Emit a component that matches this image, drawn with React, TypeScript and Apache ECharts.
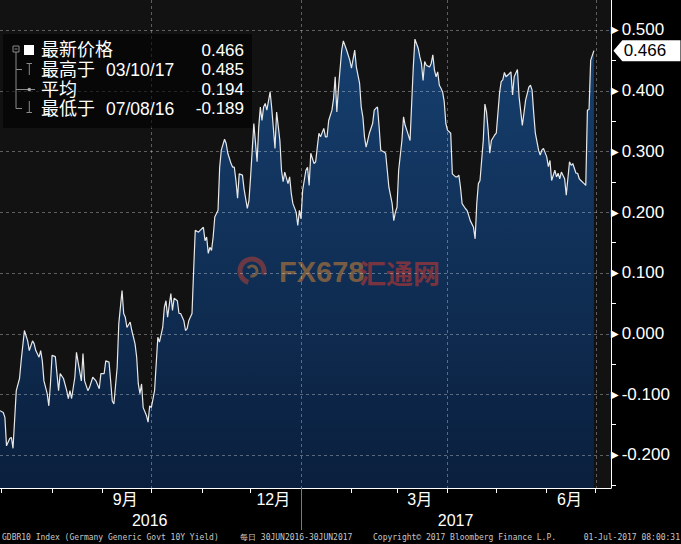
import React, { useEffect, useRef } from 'react';
import * as echarts from 'echarts';

// GDBR10 daily yield
const dates = [
  '2016-06-30','2016-07-02','2016-07-03','2016-07-04','2016-07-06','2016-07-07','2016-07-08','2016-07-10','2016-07-12','2016-07-13',
  '2016-07-15','2016-07-17','2016-07-18','2016-07-20','2016-07-21','2016-07-22','2016-07-24','2016-07-25','2016-07-26','2016-07-27',
  '2016-07-29','2016-07-30','2016-07-31','2016-08-01','2016-08-03','2016-08-04','2016-08-05','2016-08-06','2016-08-08','2016-08-10',
  '2016-08-11','2016-08-12','2016-08-13','2016-08-15','2016-08-16','2016-08-17','2016-08-19','2016-08-20','2016-08-21','2016-08-23',
  '2016-08-24','2016-08-26','2016-08-28','2016-08-30','2016-08-31','2016-09-02','2016-09-03','2016-09-05','2016-09-06','2016-09-07',
  '2016-09-08','2016-09-10','2016-09-11','2016-09-13','2016-09-14','2016-09-15','2016-09-16','2016-09-18','2016-09-19','2016-09-21',
  '2016-09-22','2016-09-23','2016-09-24','2016-09-25','2016-09-26','2016-09-28','2016-09-29','2016-09-30','2016-10-01','2016-10-03',
  '2016-10-04','2016-10-05','2016-10-06','2016-10-08','2016-10-09','2016-10-10','2016-10-11','2016-10-13','2016-10-14','2016-10-15',
  '2016-10-17','2016-10-18','2016-10-19','2016-10-21','2016-10-22','2016-10-23','2016-10-24','2016-10-26','2016-10-27','2016-10-28',
  '2016-10-30','2016-10-31','2016-11-02','2016-11-03','2016-11-04','2016-11-05','2016-11-06','2016-11-07','2016-11-08','2016-11-09',
  '2016-11-11','2016-11-12','2016-11-13','2016-11-15','2016-11-16','2016-11-17','2016-11-19','2016-11-20','2016-11-21','2016-11-22',
  '2016-11-23','2016-11-24','2016-11-26','2016-11-27','2016-11-29','2016-11-30','2016-12-01','2016-12-02','2016-12-03','2016-12-05',
  '2016-12-06','2016-12-07','2016-12-08','2016-12-09','2016-12-10','2016-12-11','2016-12-13','2016-12-14','2016-12-16','2016-12-17',
  '2016-12-19','2016-12-20','2016-12-21','2016-12-22','2016-12-24','2016-12-25','2016-12-26','2016-12-27','2016-12-29','2016-12-30',
  '2016-12-31','2017-01-01','2017-01-02','2017-01-04','2017-01-05','2017-01-06','2017-01-07','2017-01-09','2017-01-10','2017-01-11',
  '2017-01-12','2017-01-13','2017-01-15','2017-01-16','2017-01-17','2017-01-18','2017-01-20','2017-01-21','2017-01-22','2017-01-23',
  '2017-01-24','2017-01-26','2017-01-27','2017-01-29','2017-01-31','2017-02-01','2017-02-03','2017-02-04','2017-02-06','2017-02-07',
  '2017-02-08','2017-02-09','2017-02-10','2017-02-11','2017-02-12','2017-02-14','2017-02-15','2017-02-16','2017-02-17','2017-02-18',
  '2017-02-19','2017-02-21','2017-02-22','2017-02-23','2017-02-24','2017-02-26','2017-02-27','2017-02-28','2017-03-01','2017-03-02',
  '2017-03-04','2017-03-05','2017-03-06','2017-03-07','2017-03-09','2017-03-10','2017-03-11','2017-03-12','2017-03-14','2017-03-15',
  '2017-03-16','2017-03-17','2017-03-18','2017-03-19','2017-03-21','2017-03-22','2017-03-23','2017-03-24','2017-03-25','2017-03-26',
  '2017-03-27','2017-03-28','2017-03-29','2017-03-30','2017-03-31','2017-04-01','2017-04-03','2017-04-04','2017-04-06','2017-04-07',
  '2017-04-08','2017-04-09','2017-04-10','2017-04-12','2017-04-13','2017-04-14','2017-04-15','2017-04-17','2017-04-18','2017-04-19',
  '2017-04-20','2017-04-21','2017-04-23','2017-04-24','2017-04-25','2017-04-26','2017-04-27','2017-04-28','2017-04-30','2017-05-01',
  '2017-05-03','2017-05-04','2017-05-05','2017-05-06','2017-05-07','2017-05-09','2017-05-10','2017-05-11','2017-05-12','2017-05-14',
  '2017-05-15','2017-05-17','2017-05-18','2017-05-19','2017-05-21','2017-05-22','2017-05-23','2017-05-24','2017-05-25','2017-05-27',
  '2017-05-28','2017-05-29','2017-05-30','2017-06-01','2017-06-02','2017-06-03','2017-06-04','2017-06-06','2017-06-07','2017-06-08',
  '2017-06-09','2017-06-10','2017-06-12','2017-06-13','2017-06-15','2017-06-16','2017-06-17','2017-06-19','2017-06-20','2017-06-21',
  '2017-06-22','2017-06-24','2017-06-25','2017-06-26','2017-06-27','2017-06-28','2017-06-30',
];

const yields = [
  -0.127,-0.130,-0.138,-0.185,-0.173,-0.171,-0.189,-0.094,-0.074,-0.045,
  0.005,-0.012,-0.028,-0.012,-0.017,-0.028,-0.039,-0.028,-0.045,-0.078,
  -0.099,-0.119,-0.083,-0.036,-0.038,-0.066,-0.094,-0.066,-0.074,-0.094,
  -0.107,-0.094,-0.107,-0.072,-0.031,-0.047,-0.078,-0.033,-0.078,-0.094,
  -0.089,-0.072,-0.078,-0.091,-0.066,-0.066,-0.045,-0.047,-0.078,-0.111,
  -0.116,-0.056,0.016,0.071,0.033,0.027,0.010,0.019,0.005,-0.017,
  -0.039,-0.083,-0.099,-0.083,-0.122,-0.135,-0.146,-0.119,-0.122,-0.094,
  -0.050,-0.006,-0.014,0.010,0.043,0.054,0.027,0.066,0.038,0.058,
  0.054,0.033,0.033,0.021,0.005,0.008,0.021,0.033,0.104,0.170,
  0.167,0.170,0.175,0.153,0.159,0.132,0.142,0.137,0.159,0.192,
  0.203,0.274,0.302,0.320,0.313,0.297,0.280,0.274,0.274,0.252,
  0.223,0.263,0.261,0.238,0.206,0.219,0.258,0.302,0.346,0.283,
  0.340,0.373,0.351,0.373,0.379,0.368,0.398,0.371,0.305,0.365,
  0.318,0.269,0.250,0.266,0.247,0.258,0.231,0.214,0.200,0.178,
  0.203,0.189,0.236,0.269,0.274,0.244,0.297,0.280,0.283,0.307,
  0.330,0.324,0.338,0.324,0.324,0.351,0.368,0.387,0.423,0.365,
  0.404,0.467,0.482,0.467,0.450,0.437,0.467,0.439,0.412,0.373,
  0.357,0.324,0.307,0.318,0.330,0.346,0.368,0.371,0.373,0.340,
  0.302,0.299,0.297,0.269,0.241,0.214,0.186,0.200,0.208,0.269,
  0.318,0.357,0.343,0.335,0.318,0.379,0.439,0.485,0.470,0.456,
  0.445,0.417,0.448,0.442,0.439,0.445,0.459,0.434,0.423,0.431,
  0.409,0.404,0.398,0.382,0.346,0.335,0.330,0.263,0.258,0.258,
  0.261,0.241,0.214,0.206,0.203,0.195,0.186,0.175,0.156,0.214,
  0.247,0.252,0.318,0.378,0.365,0.335,0.297,0.318,0.327,0.330,
  0.396,0.415,0.418,0.430,0.423,0.428,0.431,0.393,0.423,0.435,
  0.390,0.343,0.363,0.384,0.406,0.409,0.401,0.363,0.330,0.302,
  0.294,0.302,0.305,0.291,0.275,0.285,0.252,0.269,0.258,0.264,
  0.255,0.266,0.255,0.228,0.283,0.277,0.280,0.264,0.264,0.255,
  0.252,0.247,0.244,0.368,0.369,0.450,0.466,
];

// Axis ticks / labels
const monthStarts = [
  '2016-07-01','2016-08-01','2016-09-01','2016-10-01','2016-11-01','2016-12-01',
  '2017-01-01','2017-02-01','2017-03-01','2017-04-01','2017-05-01','2017-06-01','2017-07-01',
];
const quarterStarts = ['2016-10-01', '2017-01-01', '2017-04-01', '2017-07-01'];
const monthLabelDates = ['2016-09-15', '2016-12-15', '2017-03-15', '2017-06-15'];
const monthLabels = ['9月', '12月', '3月', '6月'];
const yearLabelDates = ['2016-09-30', '2017-04-06'];
const yearLabels = ['2016', '2017'];
const yearBreaks = ['2017-01-01'];
const yMajorTicks = [-0.2, -0.1, 0, 0.1, 0.2, 0.3, 0.4, 0.5];
const yMinorTicks = [-0.25, -0.15, -0.05, 0.05, 0.15, 0.25, 0.35, 0.45];
const xStart = '2016-06-30';
const xEnd = '2017-07-10';
const yMin = -0.2544;
const yMax = 0.5494;

// Legend box
const legendNames = ['最新价格', '最高于', '平均', '最低于'];
const legendDates = ['', '03/10/17', '', '07/08/16'];
const legendValues = ['0.466', '0.485', '0.194', '-0.189'];

// Footer
const footerTexts = [
  'GDBR10 Index (Germany Generic Govt 10Y Yield)',
  '每日 30JUN2016-30JUN2017',
  'Copyright© 2017 Bloomberg Finance L.P.',
  '01-Jul-2017 08:00:31',
];

const parseT = (d: string) => {
  const [y, m, dd] = d.split('-').map(Number);
  return new Date(y, m - 1, dd).getTime();
};

const FONT = '"Liberation Sans", Arial, "Noto Sans CJK SC", sans-serif';

export default function App() {
  const ref = useRef<HTMLDivElement>(null);

  useEffect(() => {
    if (!ref.current) return;
    const chart = echarts.init(ref.current, undefined, { renderer: 'svg' });

    const xMinT = parseT(xStart);
    const xMaxT = parseT(xEnd) + 12 * 3600 * 1000;
    const seriesData = dates.map((d, i) => [parseT(d), yields[i]]);
    const lastIdx = yields.length - 1;

    const findLabel = (list: string[], labels: string[]) => (v: number) => {
      const i = list.findIndex((d) => Math.abs(parseT(d) - v) < 43200000);
      return i >= 0 ? labels[i] : '';
    };

    const rowsY = [50, 69.5, 89.5, 108.5];
    const treeColor = '#8a8a8a';
    const legendGraphics: any[] = [
      { type: 'rect', shape: { x: 3, y: 34, width: 249, height: 94 }, style: { fill: 'rgba(0,0,0,0.6)' }, z: 20 },
      { type: 'rect', shape: { x: 13, y: 46, width: 6, height: 6 }, style: { fill: 'none', stroke: treeColor, lineWidth: 1 }, z: 21 },
      { type: 'line', shape: { x1: 14.5, y1: 49, x2: 17.5, y2: 49 }, style: { stroke: treeColor, lineWidth: 1 }, z: 21 },
      { type: 'rect', shape: { x: 24, y: 45, width: 10, height: 10 }, style: { fill: '#ffffff' }, z: 21 },
      { type: 'line', shape: { x1: 16, y1: 52, x2: 16, y2: 108.5 }, style: { stroke: treeColor, lineWidth: 1 }, z: 21 },
      { type: 'line', shape: { x1: 16, y1: 69.5, x2: 22, y2: 69.5 }, style: { stroke: treeColor, lineWidth: 1 }, z: 21 },
      { type: 'line', shape: { x1: 16, y1: 89.5, x2: 35, y2: 89.5 }, style: { stroke: treeColor, lineWidth: 1 }, z: 21 },
      { type: 'line', shape: { x1: 16, y1: 108.5, x2: 22, y2: 108.5 }, style: { stroke: treeColor, lineWidth: 1 }, z: 21 },
      { type: 'line', shape: { x1: 26.5, y1: 63.5, x2: 32, y2: 63.5 }, style: { stroke: treeColor, lineWidth: 1 }, z: 21 },
      { type: 'line', shape: { x1: 29.3, y1: 63.5, x2: 29.3, y2: 75 }, style: { stroke: treeColor, lineWidth: 1 }, z: 21 },
      { type: 'circle', shape: { cx: 29.3, cy: 89.5, r: 1.8 }, style: { fill: '#aaaaaa' }, z: 21 },
      { type: 'line', shape: { x1: 29.3, y1: 101, x2: 29.3, y2: 112.5 }, style: { stroke: treeColor, lineWidth: 1 }, z: 21 },
      { type: 'line', shape: { x1: 26.5, y1: 112.5, x2: 32, y2: 112.5 }, style: { stroke: treeColor, lineWidth: 1 }, z: 21 },
    ];
    legendNames.forEach((name, i) => {
      legendGraphics.push({
        type: 'text', x: 41, y: rowsY[i], z: 22,
        style: { text: name, fill: '#ffffff', fontSize: 18, fontFamily: FONT, verticalAlign: 'middle', align: 'left' },
      });
      if (legendDates[i]) {
        legendGraphics.push({
          type: 'text', x: 106, y: rowsY[i], z: 22,
          style: { text: legendDates[i], fill: '#ffffff', fontSize: 17.5, fontFamily: FONT, verticalAlign: 'middle', align: 'left' },
        });
      }
      legendGraphics.push({
        type: 'text', x: 244, y: rowsY[i], z: 22,
        style: { text: legendValues[i], fill: '#ffffff', fontSize: 17, fontFamily: FONT, verticalAlign: 'middle', align: 'right' },
      });
    });

    const watermark: any[] = [
      { type: 'arc', shape: { cx: 252, cy: 271, r: 12, startAngle: Math.PI * 0.6, endAngle: Math.PI * 2.1 }, style: { stroke: '#d8452f', lineWidth: 5, fill: 'none', opacity: 0.45 }, z: 5 },
      { type: 'arc', shape: { cx: 252, cy: 271, r: 5, startAngle: Math.PI * 1.2, endAngle: Math.PI * 2.6 }, style: { stroke: '#e3902f', lineWidth: 3, fill: 'none', opacity: 0.45 }, z: 5 },
      { type: 'text', x: 279, y: 272, z: 5, style: { text: 'FX678', fill: '#e08a30', opacity: 0.5, fontSize: 29, fontWeight: 'bold', fontFamily: FONT, verticalAlign: 'middle' } },
      { type: 'text', x: 359, y: 272, z: 5, style: { text: '汇通网', fill: '#e03a2a', opacity: 0.5, fontSize: 27, fontWeight: 'bold', fontFamily: '"Noto Sans CJK SC", sans-serif', verticalAlign: 'middle' } },
    ];

    const footerX = [2, 240, 373, 680];
    const footerAlign = ['left', 'left', 'left', 'right'];
    const footer = footerTexts.map((t, i) => ({
      type: 'text', x: footerX[i], y: 537, z: 5,
      style: { text: t, fill: '#c8c8c8', fontSize: 8, fontFamily: '"DejaVu Sans Mono", monospace', verticalAlign: 'middle', align: footerAlign[i] },
    }));

    const option: any = {
      animation: false,
      backgroundColor: '#000000',
      grid: {
        left: 0, right: 70, top: 0, bottom: 56,
        show: true, backgroundColor: '#121212', borderWidth: 0,
        outerBoundsMode: 'none',
      },
      xAxis: [
        {
          type: 'value', position: 'bottom', min: xMinT, max: xMaxT, z: 12,
          axisLine: { show: true, onZero: false, lineStyle: { color: '#ffffff', width: 1 } },
          axisTick: { show: false },
          splitLine: { show: false },
          axisLabel: {
            customValues: monthLabelDates.map(parseT),
            formatter: findLabel(monthLabelDates, monthLabels),
            color: '#ffffff', fontSize: 16, fontFamily: FONT, margin: 3,
          },
        },
        {
          type: 'value', position: 'bottom', min: xMinT, max: xMaxT, z: 12,
          axisLine: { show: false, onZero: false },
          axisTick: { show: true, customValues: monthStarts.map(parseT), length: 5, lineStyle: { color: '#ffffff' } },
          splitLine: { show: false },
          axisLabel: {
            customValues: yearLabelDates.map(parseT),
            formatter: findLabel(yearLabelDates, yearLabels),
            color: '#ffffff', fontSize: 16, fontFamily: FONT, margin: 24,
          },
        },
        {
          type: 'value', position: 'bottom', min: xMinT, max: xMaxT, z: 12,
          axisLine: { show: false, onZero: false },
          axisTick: { show: true, customValues: yearBreaks.map(parseT), length: 42, lineStyle: { color: '#7a7a7a' } },
          splitLine: { show: false },
          axisLabel: { show: false },
        },
      ],
      yAxis: [
        {
          type: 'value', position: 'right', min: yMin, max: yMax, z: 12,
          axisLine: { show: true, onZero: false, lineStyle: { color: '#ffffff', width: 1 } },
          axisTick: { show: false },
          splitLine: { show: false },
          axisLabel: {
            customValues: yMajorTicks,
            margin: 0,
            formatter: (v: number) => '{t|▶}{v|' + v.toFixed(3) + '}',
            rich: {
              t: { fontSize: 10, color: '#ffffff', padding: [0, 3, 0, 0], fontFamily: '"DejaVu Sans", sans-serif' },
              v: { fontSize: 17, color: '#ffffff', fontFamily: FONT },
            },
          },
        },
        {
          type: 'value', position: 'right', min: yMin, max: yMax, z: 12,
          axisLine: { show: false, onZero: false },
          axisTick: { show: true, customValues: yMinorTicks, length: 5, lineStyle: { color: '#ffffff' } },
          splitLine: { show: false },
          axisLabel: { show: false },
        },
      ],
      series: [
        {
          name: 'GDBR10',
          type: 'line',
          xAxisIndex: 0,
          yAxisIndex: 0,
          data: seriesData,
          showSymbol: false,
          symbol: 'none',
          lineStyle: { color: '#e8e8e8', width: 1.2 },
          areaStyle: {
            origin: 'start',
            color: new echarts.graphic.LinearGradient(0, 0, 0, 488, [
              { offset: 0, color: '#174273' },
              { offset: 1, color: '#0a1f3d' },
            ], true),
            opacity: 1,
          },
          z: 2,
          markPoint: {
            silent: true,
            symbol: 'path://M0,10L8,0L60,0L60,20L8,20Z',
            symbolSize: [67, 21],
            symbolOffset: [53, 0],
            itemStyle: { color: '#ffffff' },
            label: {
              show: true, position: 'inside', color: '#000000', fontSize: 17, fontFamily: FONT, offset: [-2, 0],
              formatter: () => yields[lastIdx].toFixed(3),
            },
            data: [{ coord: [seriesData[lastIdx][0], yields[lastIdx]], value: yields[lastIdx] }],
          },
        },
      ],
    };

    chart.setOption(option);

    // Dashed grid lines, placed through the axes' own scales, drawn over the area fill.
    const gridStyle = { stroke: 'rgba(255,255,255,0.32)', lineWidth: 1, lineDash: [3, 3] };
    const left = chart.convertToPixel({ xAxisIndex: 0 }, xMinT) as number;
    const right = chart.convertToPixel({ xAxisIndex: 0 }, xMaxT) as number;
    const top = chart.convertToPixel({ yAxisIndex: 0 }, yMax) as number;
    const bottom = chart.convertToPixel({ yAxisIndex: 0 }, yMin) as number;
    const gridLines: any[] = [];
    yMajorTicks.forEach((v) => {
      const y = Math.round(chart.convertToPixel({ yAxisIndex: 0 }, v) as number) + 0.5;
      gridLines.push({ type: 'line', silent: true, z: 8, shape: { x1: left, y1: y, x2: right, y2: y }, style: gridStyle });
    });
    quarterStarts.forEach((d) => {
      const x = Math.round(chart.convertToPixel({ xAxisIndex: 0 }, parseT(d)) as number) + 0.5;
      gridLines.push({ type: 'line', silent: true, z: 8, shape: { x1: x, y1: top, x2: x, y2: bottom }, style: gridStyle });
    });

    chart.setOption({ graphic: [...gridLines, ...watermark, ...legendGraphics, ...footer] });

    return () => chart.dispose();
  }, []);

  return <div ref={ref} style={{ position: 'absolute', left: 0, top: 0, width: 681, height: 544 }} />;
}
